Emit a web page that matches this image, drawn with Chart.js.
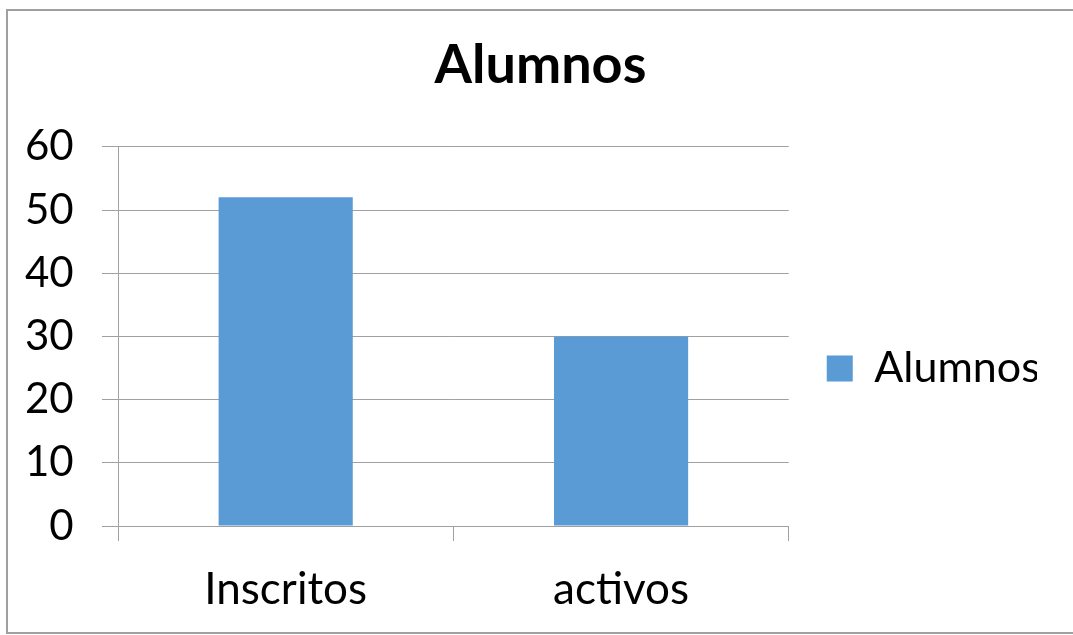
<!DOCTYPE html>
<html>
<head>
<meta charset="utf-8">
<script src="https://cdn.jsdelivr.net/npm/chart.js@4"></script>
<style>
  html, body { margin: 0; padding: 0; background: #fff; overflow: hidden; }
  #wrap { position: relative; width: 1073px; height: 635px; }
  #frame { position: absolute; left: 6px; top: 9px; width: 1090px; height: 621px; border: 2px solid #a0a0a0; box-sizing: content-box; pointer-events: none; }
  canvas { position: absolute; left: 0; top: 0; }
</style>
</head>
<body>
<div id="wrap">
  <canvas id="chart" width="1073" height="635"></canvas>
  <div id="frame"></div>
</div>
<script>
const categories = ['Inscritos', 'activos'];
const alumnos = [52, 30];
const seriesName = 'Alumnos';
const yTicks = [0, 10, 20, 30, 40, 50, 60];

const gridColor = '#a0a0a0';
const font = 'Lato';

function draw() {
  new Chart(document.getElementById('chart'), {
    type: 'bar',
    data: {
      labels: categories,
      datasets: [{
        label: seriesName,
        data: alumnos,
        backgroundColor: '#5b9bd5',
        borderWidth: 0,
        categoryPercentage: 1.0,
        barPercentage: 0.4
      }]
    },
    options: {
      responsive: false,
      animation: false,
      layout: { padding: { left: 44, right: 36, top: 0, bottom: 0 } },
      plugins: {
        title: {
          display: true,
          text: 'Alumnos',
          color: '#000',
          font: { family: font, size: 54, weight: 'bold' },
          padding: { top: 33, bottom: 49 }
        },
        legend: {
          position: 'right',
          // empty legend title only pushes the single entry down a bit
          title: { display: true, text: ' ', font: { size: 10 }, padding: { top: 90, bottom: 0 } },
          labels: {
            color: '#000',
            font: { family: font, size: 43 },
            boxWidth: 26,
            boxHeight: 26,
            padding: 38
          }
        },
        tooltip: { enabled: false }
      },
      scales: {
        x: {
          grid: {
            offset: true,
            drawOnChartArea: false,
            drawTicks: true,
            tickLength: 15,
            color: gridColor
          },
          border: { display: true, color: gridColor, width: 1 },
          ticks: { color: '#000', font: { family: font, size: 44 }, padding: 22 },
          afterFit: s => { s.height = 109; }
        },
        y: {
          min: 0,
          max: 60,
          afterBuildTicks: s => { s.ticks = yTicks.map(v => ({ value: v })); },
          grid: { color: gridColor, tickLength: 16 },
          border: { display: true, color: gridColor, width: 1 },
          // mirrored + far-aligned so the labels are not clipped to the narrow axis box;
          // negative padding puts them back left of the tick marks, right-aligned
          ticks: { color: '#000', font: { family: font, size: 42 }, mirror: true, crossAlign: 'far', padding: -93 },
          afterFit: s => { s.width = 74; }
        }
      }
    }
  });
}

// measure text with Lato, not the fallback face
Promise.all([
  document.fonts.load('44px Lato'),
  document.fonts.load('bold 54px Lato')
]).then(draw, draw);
</script>
</body>
</html>
